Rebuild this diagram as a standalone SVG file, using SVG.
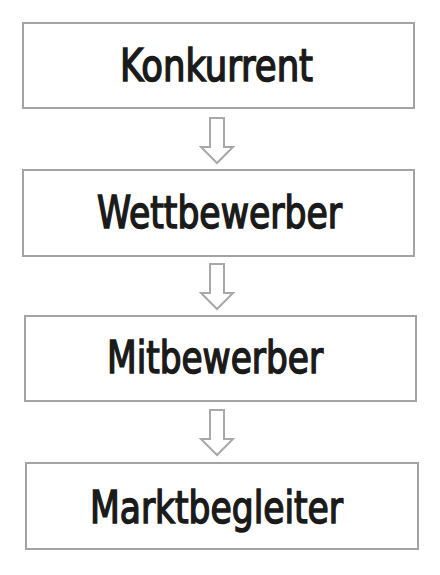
<svg xmlns="http://www.w3.org/2000/svg" width="440" height="575" viewBox="0 0 440 575">
<style>
.box{fill:#ffffff;stroke:#a3a3a3;stroke-width:2}
.lbl{font-family:"DejaVu Sans Condensed","Liberation Sans",sans-serif;font-size:45px;fill:#1a1a1a;stroke:#1a1a1a;stroke-width:1.5;text-anchor:middle}
.arr{fill:#ffffff;stroke:#a8a8a8;stroke-width:2;stroke-linejoin:miter}
</style>
<defs>
<polygon id="dn" points="-7,0 7,0 7,29 16,29 0,45 -16,29 -7,29"/>
</defs>
<rect width="440" height="575" fill="#ffffff"/>
<g id="connectors">
<use href="#dn" class="arr" x="217" y="118"/>
<use href="#dn" class="arr" x="217" y="264"/>
<use href="#dn" class="arr" x="217" y="410"/>
</g>
<g id="n1"><rect class="box" x="23" y="23" width="391" height="85"/><text class="lbl" x="216.5" y="81" textLength="193" lengthAdjust="spacingAndGlyphs">Konkurrent</text></g>
<g id="n2"><rect class="box" x="23" y="170" width="391" height="86"/><text class="lbl" x="219.5" y="228" textLength="245" lengthAdjust="spacingAndGlyphs">Wettbewerber</text></g>
<g id="n3"><rect class="box" x="25" y="316" width="391" height="85"/><text class="lbl" x="215" y="373" textLength="216" lengthAdjust="spacingAndGlyphs">Mitbewerber</text></g>
<g id="n4"><rect class="box" x="26" y="463" width="392" height="86"/><text class="lbl" x="216.5" y="523" textLength="253" lengthAdjust="spacingAndGlyphs">Marktbegleiter</text></g>
</svg>
